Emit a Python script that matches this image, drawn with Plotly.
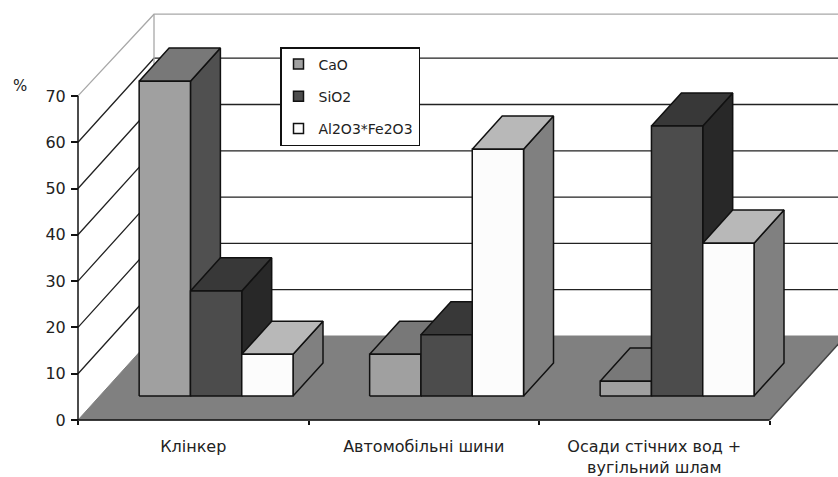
import plotly.graph_objects as go

# Composition of the three materials, percent by mass
categories = ["Клінкер", "Автомобільні шини", "Осади стічних вод +<br>вугільний шлам"]
series_names = ["CaO", "SiO2", "Al2O3*Fe2O3"]
cao = [68, 9, 3.2]
sio2 = [22.7, 13.2, 58.3]
al2o3_fe2o3 = [9, 53.3, 33]
percent_ticks = [0, 10, 20, 30, 40, 50, 60, 70]

# Face colours of each series: front, top, side
front_colors = ["#a0a0a0", "#4c4c4c", "#fcfcfc"]
top_colors = ["#787878", "#383838", "#b8b8b8"]
side_colors = ["#505050", "#282828", "#808080"]

W, H = 838, 477
X0_PX, Y0_PX = 78, 420        # page position of the chart origin
PX_PER_CAT, PX_PER_PCT = 230.5, 4.63
DEPTH_X = 76 / PX_PER_CAT     # oblique offset of the back wall, in axis units
DEPTH_Y = 84 / PX_PER_PCT
BAR_WIDTH = 51.3 / PX_PER_CAT
BAR_START = 0.171             # gap between a category edge and its first bar
BAR_D0, BAR_D1 = 0.286, 0.68  # depth span of the bars
WALL_TOP = 69.5
FONT = "DejaVu Sans"


def project(x, v, d):
    """Oblique projection of (category position, percent, depth 0..1)."""
    return x + d * DEPTH_X, v + d * DEPTH_Y


def polygon(points, fill=None, line="#111111", width=1.5):
    xs, ys = zip(*[project(*p) for p in points])
    kw = dict(fill="toself", fillcolor=fill) if fill else {}
    return go.Scatter(x=list(xs), y=list(ys), mode="lines", line=dict(color=line, width=width),
                      showlegend=False, hoverinfo="skip", **kw)


fig = go.Figure()
right_end = 3.4

# Floor
fig.add_trace(polygon([(0, 0, 0), (3, 0, 0), (3, 0, 1), (right_end, 0, 1), (0, 0, 1), (0, 0, 0)],
                      fill="#808080", line="#808080", width=1))
fig.add_trace(polygon([(3, 0, 0), (3, 0, 1)], line="#444444", width=1.5))

# Walls: gridlines run along the side wall and then across the back wall
for v in percent_ticks[1:-1]:
    fig.add_trace(polygon([(0, v, 0), (0, v, 1), (right_end, v, 1)], line="#222222", width=1.3))

wx, wy = zip(project(0, 70, 0), project(0, WALL_TOP, 1), project(right_end, WALL_TOP, 1))
fig.add_trace(go.Scatter(x=wx, y=wy, mode="lines", line=dict(color="#a8a8a8", width=1.3),
                         showlegend=False, hoverinfo="skip"))
fig.add_trace(polygon([(0, 0, 1), (0, WALL_TOP, 1)], line="#a8a8a8", width=1.3))

# Axis lines
fig.add_trace(polygon([(0, 0, 0), (0, 70, 0)], line="#111111", width=1.5))
fig.add_trace(polygon([(0, 0, 0), (3, 0, 0)], line="#111111", width=1.5))

# Bars, left to right so that each one overlaps the side of its neighbour
for c in range(len(categories)):
    for s, values in enumerate([cao, sio2, al2o3_fe2o3]):
        v = values[c]
        x0 = c + BAR_START + s * BAR_WIDTH
        x1 = x0 + BAR_WIDTH
        fig.add_trace(polygon([(x1, 0, BAR_D0), (x1, 0, BAR_D1), (x1, v, BAR_D1), (x1, v, BAR_D0), (x1, 0, BAR_D0)],
                              fill=side_colors[s]))
        fig.add_trace(polygon([(x0, v, BAR_D0), (x1, v, BAR_D0), (x1, v, BAR_D1), (x0, v, BAR_D1), (x0, v, BAR_D0)],
                              fill=top_colors[s]))
        fig.add_trace(polygon([(x0, 0, BAR_D0), (x1, 0, BAR_D0), (x1, v, BAR_D0), (x0, v, BAR_D0), (x0, 0, BAR_D0)],
                              fill=front_colors[s]))

# Legend entries
for s, name in enumerate(series_names):
    fig.add_trace(go.Scatter(x=[None], y=[None], mode="markers", name=name, legendgroup=name,
                             marker=dict(symbol="square", size=10, color=front_colors[s],
                                         line=dict(color="#111111", width=1.5))))

fig.add_annotation(text="%", xref="paper", yref="paper", x=19.5 / W, y=1 - 86 / H, showarrow=False,
                   xanchor="center", yanchor="middle",
                   font=dict(family=FONT, size=15, color="#222222"))

fig.update_layout(
    width=W, height=H, autosize=False,
    margin=dict(l=0, r=0, t=0, b=0),
    paper_bgcolor="white", plot_bgcolor="white",
    font=dict(family=FONT, size=16, color="#222222"),
    legend=dict(x=280 / W, y=1 - 47 / H, xanchor="left", yanchor="top",
                bgcolor="white", bordercolor="#111111", borderwidth=1.5,
                tracegroupgap=11, indentation=-3,
                font=dict(family=FONT, size=14, color="#222222")),
    xaxis=dict(range=[-X0_PX / PX_PER_CAT, (W - X0_PX) / PX_PER_CAT],
               anchor="free", position=(H - Y0_PX) / H,
               showgrid=False, zeroline=False, showline=False,
               tickmode="array", tickvals=[0.5, 1.5, 2.5], ticktext=categories,
               ticks="", ticklabelstandoff=15,
               minor=dict(tickmode="array", tickvals=[0, 1, 2, 3], ticks="outside",
                          ticklen=4, tickwidth=1.5, tickcolor="#111111", showgrid=False)),
    yaxis=dict(range=[(Y0_PX - H) / PX_PER_PCT, Y0_PX / PX_PER_PCT],
               anchor="free", position=X0_PX / W,
               showgrid=False, zeroline=False, showline=False,
               tickmode="array", tickvals=percent_ticks,
               ticks="outside", ticklen=7, tickwidth=1.5, tickcolor="#111111",
               ticklabelstandoff=2),
)

fig.write_html("out.html", config=dict(displayModeBar=False))
